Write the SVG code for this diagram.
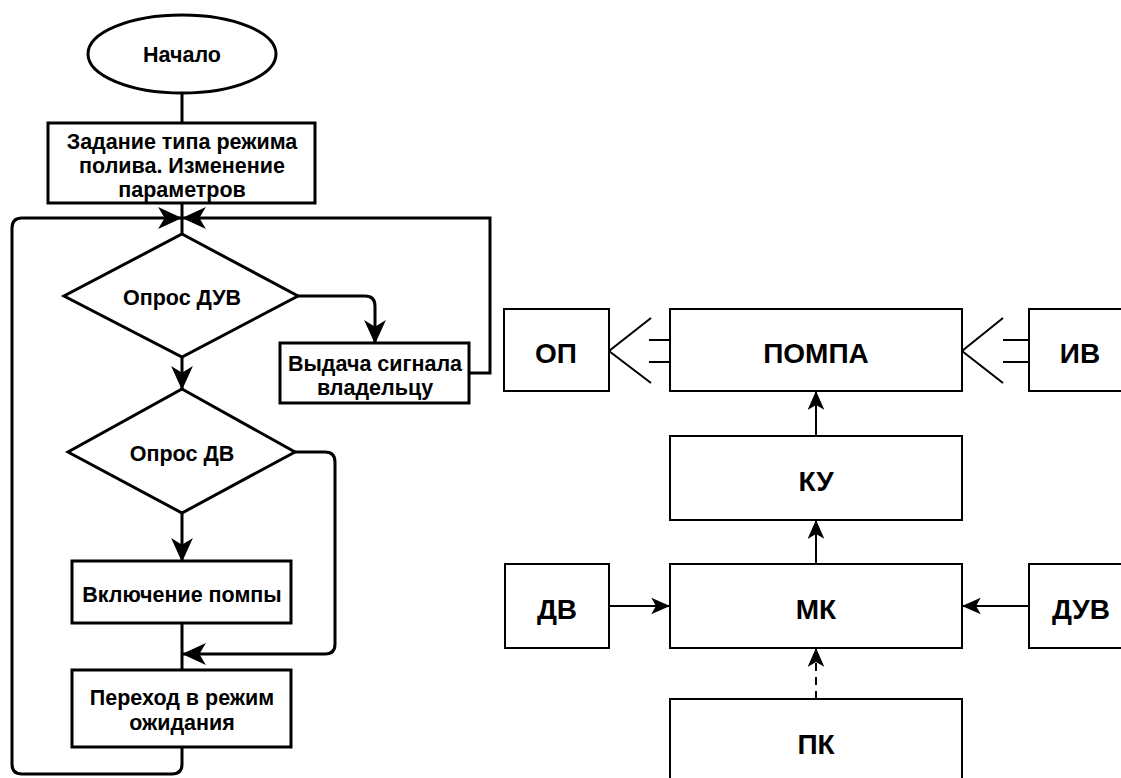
<svg xmlns="http://www.w3.org/2000/svg" width="1121" height="778" viewBox="0 0 1121 778">
  <style>
    .fc { fill: #fff; stroke: #000; stroke-width: 3; }
    .bd { fill: #fff; stroke: #000; stroke-width: 2; }
    .t { font-family: "Liberation Sans", Arial, sans-serif; font-weight: bold; fill: #000; text-anchor: middle; }
    .t1 { font-size: 21.5px; }
    .t2 { font-size: 28px; }
    .line3 { fill: none; stroke: #000; stroke-width: 3; }
    .line2 { fill: none; stroke: #000; stroke-width: 2; }
    .dash { stroke-dasharray: 8 6; }
  </style>
  <defs>
    <marker id="arrowBig" markerUnits="userSpaceOnUse" markerWidth="24" markerHeight="24" viewBox="0 0 22 20" refX="21" refY="10" orient="auto">
      <path d="M0,0 L22,10 L0,20 L6,10 Z" fill="#000"/>
    </marker>
    <marker id="arrowSmall" markerUnits="userSpaceOnUse" markerWidth="19" markerHeight="17" viewBox="0 0 16 14" refX="15" refY="7" orient="auto">
      <path d="M0,0 L16,7 L0,14 L4,7 Z" fill="#000"/>
    </marker>
  </defs>

  <!-- Flowchart connectors -->
  <g id="flow-connectors">
    <line class="line3" x1="182" y1="93" x2="182" y2="123"/>
    <line class="line3" x1="182" y1="203" x2="182" y2="234"/>
    <line class="line3" x1="182" y1="357" x2="182" y2="389" marker-end="url(#arrowBig)"/>
    <line class="line3" x1="182" y1="513" x2="182" y2="561" marker-end="url(#arrowBig)"/>
    <line class="line3" x1="182" y1="623" x2="182" y2="670"/>
    <path class="line3" d="M298,296 H365 Q375,296 375,306 V343" marker-end="url(#arrowBig)"/>
    <path class="line3" d="M469,373 H490 V218 H183" marker-end="url(#arrowBig)"/>
    <path class="line3" d="M295,452 H325 Q335,452 335,462 V644 Q335,654 325,654 H183" marker-end="url(#arrowBig)"/>
    <path class="line3" d="M182,747 V764 Q182,774 172,774 H22 Q12,774 12,764 V228 Q12,218 22,218 H181" marker-end="url(#arrowBig)"/>
  </g>

  <g id="start">
    <ellipse class="fc" cx="182" cy="54" rx="94" ry="39"/>
    <text class="t t1" x="182" y="62">Начало</text>
  </g>
  <g id="set-mode">
    <rect class="fc" x="48" y="123" width="267" height="80"/>
    <text class="t t1" x="182" y="149">Задание типа режима</text>
    <text class="t t1" x="182" y="173">полива. Изменение</text>
    <text class="t t1" x="182" y="197">параметров</text>
  </g>
  <g id="poll-duv">
    <polygon class="fc" points="182,234 298,296 182,357 64,296"/>
    <text class="t t1" x="182" y="305">Опрос ДУВ</text>
  </g>
  <g id="signal-owner">
    <rect class="fc" x="280" y="343" width="189" height="60"/>
    <text class="t t1" x="375" y="371">Выдача сигнала</text>
    <text class="t t1" x="375" y="395">владельцу</text>
  </g>
  <g id="poll-dv">
    <polygon class="fc" points="182,389 295,452 182,513 68,452"/>
    <text class="t t1" x="182" y="461">Опрос ДВ</text>
  </g>
  <g id="pump-on">
    <rect class="fc" x="72" y="561" width="219" height="62"/>
    <text class="t t1" x="182" y="602">Включение помпы</text>
  </g>
  <g id="standby">
    <rect class="fc" x="72" y="670" width="219" height="77"/>
    <text class="t t1" x="182" y="705">Переход в режим</text>
    <text class="t t1" x="182" y="730">ожидания</text>
  </g>

  <!-- Block diagram connectors -->
  <g id="block-connectors">
    <!-- ПОМПА to ОП -->
    <polyline class="line2" points="651,318 609,351 651,383"/>
    <line class="line2" x1="649" y1="340" x2="670" y2="340"/>
    <line class="line2" x1="649" y1="362" x2="670" y2="362"/>
    <!-- ИВ to ПОМПА -->
    <polyline class="line2" points="1003,318 962,351 1003,383"/>
    <line class="line2" x1="1003" y1="340" x2="1029" y2="340"/>
    <line class="line2" x1="1003" y1="362" x2="1029" y2="362"/>
    <line class="line2" x1="816" y1="436" x2="816" y2="392" marker-end="url(#arrowSmall)"/>
    <line class="line2" x1="816" y1="564" x2="816" y2="521" marker-end="url(#arrowSmall)"/>
    <line class="line2" x1="609" y1="606" x2="669" y2="606" marker-end="url(#arrowSmall)"/>
    <line class="line2" x1="1029" y1="606" x2="963" y2="606" marker-end="url(#arrowSmall)"/>
    <line class="line2 dash" x1="816" y1="699" x2="816" y2="649" marker-end="url(#arrowSmall)"/>
  </g>

  <g id="op">
    <rect class="bd" x="504" y="309" width="105" height="82"/>
    <text class="t t2" x="556" y="363">ОП</text>
  </g>
  <g id="pompa">
    <rect class="bd" x="670" y="309" width="292" height="82"/>
    <text class="t t2" x="816" y="363">ПОМПА</text>
  </g>
  <g id="iv">
    <rect class="bd" x="1029" y="309" width="100" height="82"/>
    <text class="t t2" x="1080" y="363">ИВ</text>
  </g>
  <g id="ku">
    <rect class="bd" x="670" y="436" width="292" height="84"/>
    <text class="t t2" x="816" y="491">КУ</text>
  </g>
  <g id="mk">
    <rect class="bd" x="670" y="564" width="292" height="84"/>
    <text class="t t2" x="816" y="619">МК</text>
  </g>
  <g id="dv">
    <rect class="bd" x="505" y="564" width="104" height="84"/>
    <text class="t t2" x="557" y="619">ДВ</text>
  </g>
  <g id="duv">
    <rect class="bd" x="1029" y="564" width="100" height="84"/>
    <text class="t t2" x="1081" y="619">ДУВ</text>
  </g>
  <g id="pk">
    <rect class="bd" x="670" y="699" width="292" height="90"/>
    <text class="t t2" x="816" y="754">ПК</text>
  </g>
</svg>
